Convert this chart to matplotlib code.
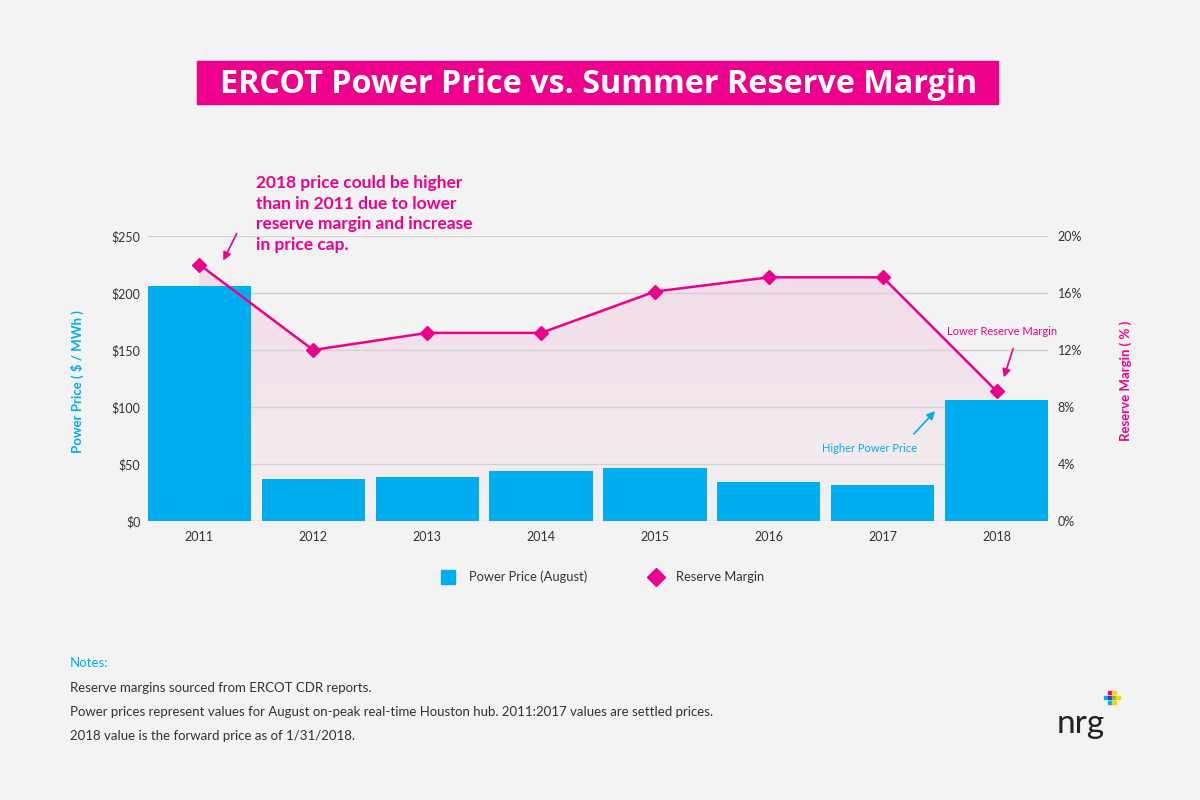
import numpy as np
import matplotlib.pyplot as plt
from matplotlib.colors import LinearSegmentedColormap
from matplotlib.patches import Rectangle

PINK = "#ec008c"
BLUE = "#00aeef"
BG = "#f3f3f3"
DARK = "#333333"

years = ["2011", "2012", "2013", "2014", "2015", "2016", "2017", "2018"]
power_price = [206, 37, 39, 44, 46.5, 34, 32, 106]          # $ / MWh, August on-peak
reserve_margin = [18.0, 12.0, 13.2, 13.2, 16.1, 17.1, 17.1, 9.1]  # %
price_ticks = [0, 50, 100, 150, 200, 250]
margin_ticks = [0, 4, 8, 12, 16, 20]

notes = [
    "Reserve margins sourced from ERCOT CDR reports.",
    "Power prices represent values for August on-peak real-time Houston hub. 2011:2017 values are settled prices.",
    "2018 value is the forward price as of 1/31/2018.",
]

plt.rcParams["font.family"] = ["Lato", "DejaVu Sans"]

fig = plt.figure(figsize=(12, 8), dpi=100, facecolor=BG)
ax = fig.add_axes([148 / 1200, 1 - 521 / 800, 900 / 1200, 285 / 800])
ax.set_facecolor("none")
ax2 = ax.twinx()
ax2.set_facecolor("none")

x = np.arange(len(years))

# gradient fill under reserve-margin line (drawn in ax, behind bars)
poly = ax.fill_between(x, reserve_margin, 0, color="none", transform=ax2.transData)
grad = np.linspace(0, 1, 256).reshape(-1, 1)
cmap = LinearSegmentedColormap.from_list("pk", ["#f3f0f2", "#f2dbe7"])
img = ax.imshow(grad, cmap=cmap, origin="lower", aspect="auto",
                extent=[-0.45, 7.45, 0, 230], zorder=0.5)
img.set_clip_path(poly.get_paths()[0], transform=ax2.transData)

ax.bar(x, power_price, width=0.905, color=BLUE, zorder=2)
ax.set_xlim(-0.45, 7.45)
ax.set_ylim(0, 250)
ax.set_yticks(price_ticks)
ax.set_yticklabels([f"${v}" for v in price_ticks])
ax.set_xticks(x)
ax.set_xticklabels(years)
ax.grid(axis="y", color="#d2d2d2", lw=1, zorder=0)
ax.set_axisbelow(True)

ax2.plot(x, reserve_margin, color=PINK, lw=1.8, marker="D", ms=7.5, zorder=5)
ax2.set_ylim(0, 20)
ax2.set_yticks(margin_ticks)
ax2.set_yticklabels([f"{v}%" for v in margin_ticks])

for a in (ax, ax2):
    for s in a.spines.values():
        s.set_visible(False)
    a.tick_params(length=0, labelsize=9, colors=DARK)
ax.tick_params(axis="y", pad=5.5)
ax.tick_params(axis="x", pad=7)
ax2.tick_params(axis="y", pad=7)

ax.set_ylabel("Power Price ( $ / MWh )", color=BLUE, fontsize=9.5, fontweight="bold")
ax2.set_ylabel("Reserve Margin ( % )", color=PINK, fontsize=9.5, fontweight="bold")
ax.yaxis.set_label_coords(-0.071, 0.49)
ax2.yaxis.set_label_coords(1.079, 0.49)

# annotations
fig.text(256 / 1200, 1 - 214 / 800,
         "2018 price could be higher\nthan in 2011 due to lower\nreserve margin and increase\nin price cap.",
         color=PINK, fontsize=12.5, fontweight="bold", va="center", ha="left", linespacing=1.38)
fig.add_artist(plt.Annotation("", xy=(222 / 1200, 1 - 263 / 800), xytext=(238 / 1200, 1 - 231 / 800),
                              xycoords="figure fraction",
                              arrowprops=dict(arrowstyle="-|>", color=PINK, lw=1.2, mutation_scale=12)))
fig.text(1002 / 1200, 1 - 331 / 800, "Lower Reserve Margin", color=PINK, fontsize=8, ha="center", va="center")
fig.add_artist(plt.Annotation("", xy=(1003 / 1200, 1 - 380 / 800), xytext=(1014 / 1200, 1 - 346 / 800),
                              xycoords="figure fraction",
                              arrowprops=dict(arrowstyle="-|>", color=PINK, lw=1.2, mutation_scale=12)))
fig.text(870 / 1200, 1 - 449 / 800, "Higher Power Price", color=BLUE, fontsize=8, ha="center", va="center")
fig.add_artist(plt.Annotation("", xy=(937 / 1200, 1 - 409 / 800), xytext=(912 / 1200, 1 - 436 / 800),
                              xycoords="figure fraction",
                              arrowprops=dict(arrowstyle="-|>", color=BLUE, lw=1.2, mutation_scale=12)))

# legend
h1 = plt.Line2D([], [], marker="s", color=BLUE, ls="none", ms=10.5)
h2 = plt.Line2D([], [], marker="D", color=PINK, ls="none", ms=9)
fig.legend([h1, h2], ["Power Price (August)", "Reserve Margin"], loc="center",
           bbox_to_anchor=(600 / 1200, 1 - 577 / 800), ncol=2, frameon=False,
           fontsize=9.3, columnspacing=4.3, handletextpad=0.6, labelcolor=DARK)

# title box
fig.add_artist(Rectangle((197 / 1200, 1 - 104 / 800), 801 / 1200, 43 / 800,
                         transform=fig.transFigure, color=PINK))
fig.text(599 / 1200, 1 - 93 / 800, "ERCOT Power Price vs. Summer Reserve Margin",
         color="white", fontsize=23.3, fontweight="bold", ha="center", va="baseline",
         family=["Open Sans", "DejaVu Sans"])

# notes
fig.text(70 / 1200, 1 - 663 / 800, "Notes:", color=BLUE, fontsize=9.5, va="center")
for i, line in enumerate(notes):
    fig.text(70 / 1200, 1 - (688 + 24 * i) / 800, line, color=DARK, fontsize=9.5, va="center")

# logo
fig.text(1081 / 1200, 1 - 724 / 800, "nrg", color="#222222", fontsize=24, ha="center", va="center")
sq = [((1108, 694), PINK), ((1104, 699), BLUE), ((1108, 699), "#3b3f9c"), ((1112, 699), "#7ac143"),
      ((1116, 699), "#ffd200"), ((1108, 704), "#00aeef"), ((1112, 704), "#ffd200"), ((1112, 694), "#ffd200")]
for (px, py), c in sq:
    fig.add_artist(Rectangle((px / 1200, 1 - py / 800), 3.5 / 1200, 3.5 / 800,
                             transform=fig.transFigure, color=c))

fig.savefig("out.png", dpi=100, facecolor=BG)
